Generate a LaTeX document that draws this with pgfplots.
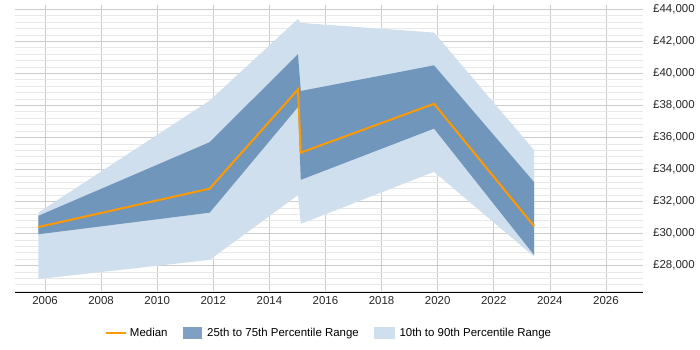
\documentclass[border=0pt]{standalone}
\usepackage{pgfplots}
\pgfplotsset{compat=1.18}
\usepackage{fontspec}
\setmainfont{Liberation Sans}
\definecolor{medianc}{RGB}{255,153,0}
\definecolor{darkb}{RGB}{113,150,188}
\definecolor{lightb}{RGB}{207,223,238}
\definecolor{gmaj}{RGB}{204,204,204}
\definecolor{gmin}{RGB}{232,232,232}
\begin{document}
\begin{tikzpicture}
\useasboundingbox (0,0) rectangle (700bp,350bp);
\begin{axis}[
  at={(15bp,58bp)}, anchor=south west,
  scale only axis, width=627.7bp, height=287bp,
  xmin=2004.93, xmax=2027.31,
  ymin=26344, ymax=44270,
  xtick={2006,2008,...,2026},
  ytick={28000,30000,...,44000},
  minor ytick={26400,26800,...,44000},
  x tick label style={/pgf/number format/1000 sep={}},
  yticklabels={{£28,000},{£30,000},{£32,000},{£34,000},{£36,000},{£38,000},{£40,000},{£42,000},{£44,000}},
  /pgf/number format/assume math mode=true,
  tick label style={font=\fontsize{11.5}{13}\selectfont, text=black!85},
  yticklabel pos=right,
  yticklabel style={anchor=west, xshift=7bp},
  xticklabel style={yshift=-1bp},
  major tick length=0pt, minor tick length=0pt,
  separate axis lines,
  axis x line*=bottom, axis y line*=right,
  x axis line style={black, line width=0.8pt, -},
  y axis line style={draw=none},
  xmajorgrids, ymajorgrids, yminorgrids,
  major grid style={gmaj, line width=0.6pt},
  minor grid style={gmin, line width=0.6pt},
  legend style={at={(0.5,-0.1429)}, anchor=center, draw=none, fill=none,
    legend columns=3, font=\fontsize{11.5}{13}\selectfont,
    /tikz/every even column/.append style={column sep=13.5bp},
    legend cell align=left},
]
\addlegendimage{legend image code/.code={\draw[medianc, line width=2.8bp] (0bp,0bp) -- (20bp,0bp); \path[draw=none,fill=none] (0bp,0bp) rectangle (22bp,0.1bp);}}
\addlegendentry{Median}
\addlegendimage{legend image code/.code={\fill[darkb!90!white] (0bp,-5.5bp) rectangle (18bp,5.5bp); \path[draw=none,fill=none] (0bp,0bp) rectangle (22bp,0.1bp);}}
\addlegendentry{25th to 75th Percentile Range}
\addlegendimage{legend image code/.code={\fill[lightb] (0bp,-5.5bp) rectangle (20bp,5.5bp); \path[draw=none,fill=none] (0bp,0bp) rectangle (23bp,0.1bp);}}
\addlegendentry{10th to 90th Percentile Range}

\addplot[fill=lightb, draw=none, forget plot] coordinates {
(2005.76,31300) (2011.87,38300) (2015.02,43400) (2015.12,43150) (2019.87,42550) (2023.44,35200)
(2023.44,28550) (2019.87,33850) (2015.12,30600) (2015.02,32400) (2011.87,28350) (2005.76,27150)
} -- cycle;
\addplot[fill=darkb, draw=none, forget plot] coordinates {
(2005.76,31100) (2011.87,35700) (2015.02,41200) (2015.12,38900) (2019.87,40500) (2023.44,33200)
(2023.44,28650) (2019.87,36550) (2015.12,33350) (2015.02,37900) (2011.87,31300) (2005.76,29950)
} -- cycle;
\addplot[medianc, line width=2bp, forget plot] coordinates {
(2005.76,30400) (2011.87,32800) (2015.02,39000) (2015.12,35050) (2019.87,38100) (2023.44,30450)
};
\end{axis}
\end{tikzpicture}
\end{document}
